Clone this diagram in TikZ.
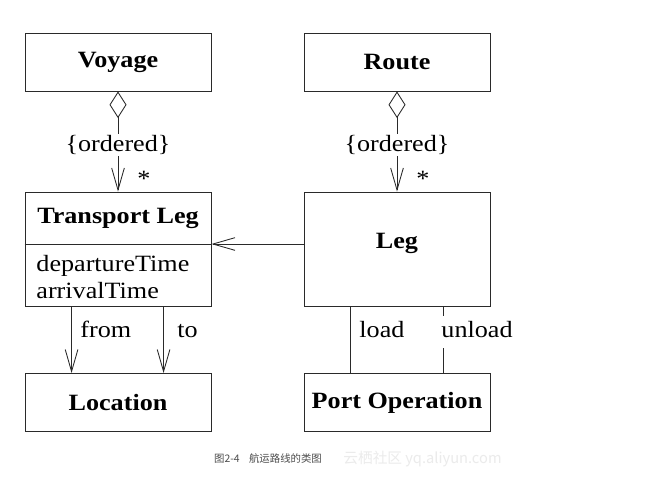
\documentclass[tikz,border=0pt]{standalone}
\usepackage{fontspec}
\setmainfont{Liberation Serif}[FakeStretch=1.12]
\newfontfamily\cjk{Noto Sans CJK SC}
\usetikzlibrary{arrows.meta,calc}
\definecolor{ink}{HTML}{2A2A2A}
\begin{document}
\begin{tikzpicture}[x=0.75pt,y=-0.75pt, line width=0.65pt, draw=ink, text=black,
  cls/.style={draw=ink, minimum width=139.5pt, minimum height=43.5pt, inner sep=0pt,
              font=\fontsize{17.5}{20}\selectfont\bfseries},
  bigcls/.style={cls, minimum height=85.5pt},
  ttl/.style={font=\fontsize{17.5}{20}\selectfont\bfseries, inner sep=0pt},
  txt/.style={font=\fontsize{17.5}{20}\selectfont, inner sep=0pt},
  lbl/.style={font=\fontsize{17.5}{20}\selectfont, inner sep=1.5pt, anchor=base west},
  nav/.style={-{Straight Barb[length=16.5pt, width=9.5pt]}},
  agg/.style={{Diamond[open, length=20pt, width=12.75pt]}-{Straight Barb[length=16.5pt, width=9.5pt]}}]
\useasboundingbox[fill=white] (0,0) rectangle (645,476);

% classes
\node[cls] (voyage) at (118,62) {Voyage};
\node[cls] (route)  at (397,62) {Route};
\node[bigcls] (tleg) at (118,249) {};
\node[ttl] (tlegname) at (118,218) {Transport Leg};
\coordinate (tdiv) at (118,244);
\draw (tleg.west |- tdiv) -- (tleg.east |- tdiv);
\node[txt, anchor=base west] (dep) at (36,271) {departureTime};
\node[txt, anchor=base west] (arr) at (36,298.5) {arrivalTime};
\node[bigcls] (leg) at (397,249) {};
\node[ttl] (legname) at (397,243) {Leg};
\node[cls] (loc)  at (118,402.5) {Location};
\node[cls] (port) at (397,402.5) {Port Operation};

% aggregations
\draw[agg] (voyage.south) -- node[pos=0.53, fill=white, txt, inner sep=1pt] (ord1) {\{ordered\}} (tleg.north);
\draw[agg] (route.south) -- node[pos=0.53, fill=white, txt, inner sep=1pt] (ord2) {\{ordered\}} (leg.north);
\node[txt, anchor=base] (m1) at (144,186) {*};
\node[txt, anchor=base] (m2) at (423,186) {*};

% Leg -> Transport Leg
\draw[nav] (leg.west |- tdiv) -- (tleg.east |- tdiv);

% from / to
\coordinate (fromA) at ($(tleg.south west)+(47,0)$);
\coordinate (toA)   at ($(tleg.south west)+(139,0)$);
\draw[nav] (fromA) -- (fromA |- loc.north);
\draw[nav] (toA) -- (toA |- loc.north);
\node[lbl] (from) at (78,337) {from};
\node[lbl] (to)   at (175,337) {to};

% load / unload
\coordinate (loadA)   at ($(leg.south west)+(47,0)$);
\coordinate (unloadA) at ($(leg.south west)+(140,0)$);
\draw (loadA) -- (loadA |- port.north);
\draw (unloadA) -- (unloadA |- port.north);
\node[lbl] (load) at (357,337) {load};
\node[lbl, fill=white, inner ysep=2pt] (unload) at (439,337) {\strut unload};

% caption
\node[font=\cjk\fontsize{7.8}{9}\selectfont, text=black!70, inner sep=0pt] (cap) at (268,459) {图2-4\hspace{0.9em}航运路线的类图};
\node[font=\cjk\fontsize{11}{13}\selectfont, text=black!8, inner sep=0pt, anchor=west] (wm) at (343,459) {云栖社区 yq.aliyun.com};
\end{tikzpicture}
\end{document}
